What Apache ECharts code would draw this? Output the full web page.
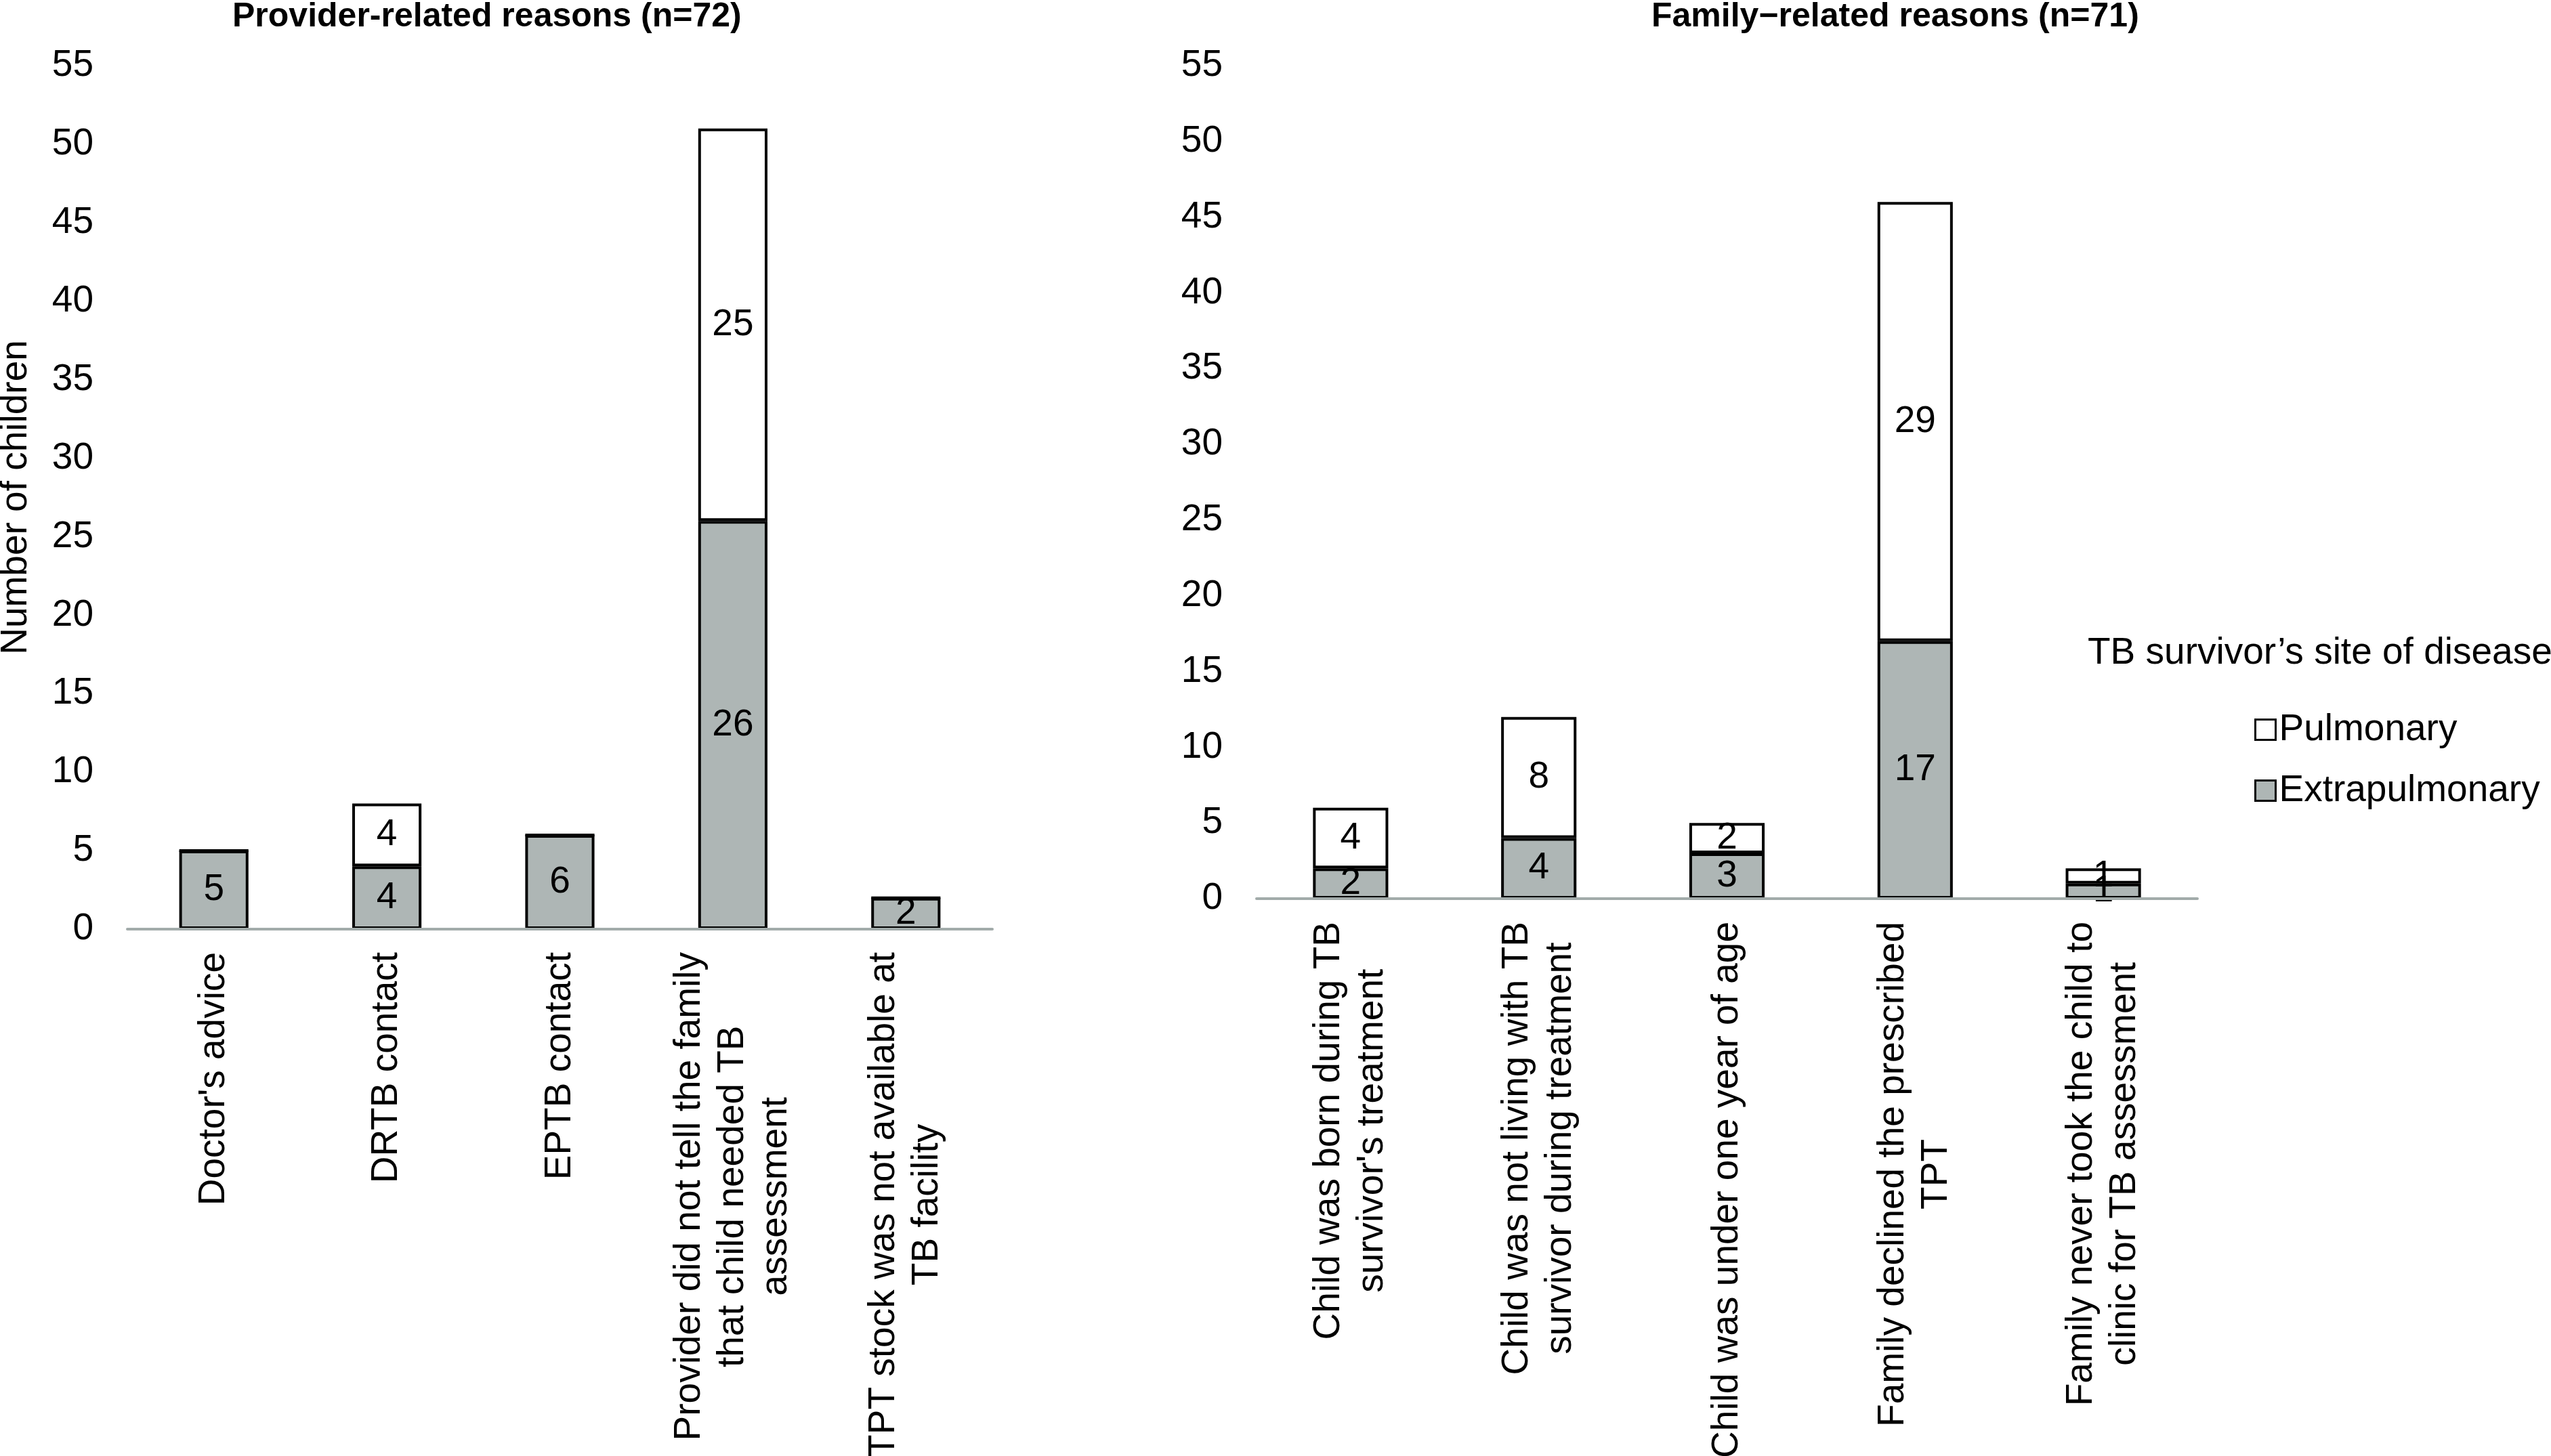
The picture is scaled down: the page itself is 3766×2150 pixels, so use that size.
<!DOCTYPE html>
<html>
<head>
<meta charset="utf-8">
<script src="https://cdn.jsdelivr.net/npm/echarts@6/dist/echarts.min.js"></script>
<style>
html,body{margin:0;padding:0;background:#ffffff;}
#chart{width:3766px;height:2150px;}
</style>
</head>
<body>
<div id="chart"></div>
<script>
// ---- data ----
const providerTitle = 'Provider-related reasons (n=72)';
const familyTitle = 'Family\u2212related reasons (n=71)';
const legendTitle = 'TB survivor\u2019s site of disease';
const seriesNames = ['Pulmonary', 'Extrapulmonary'];
const yAxisName = 'Number of children';

const providerCategories = [
  "Doctor's advice",
  "DRTB contact",
  "EPTB contact",
  "Provider did not tell the family\nthat child needed TB\nassessment",
  "TPT stock was not available at\nTB facility"
];
const providerExtrapulmonary = [5, 4, 6, 26, 2];
const providerPulmonary = [0, 4, 0, 25, 0];

const familyCategories = [
  "Child was born during TB\nsurvivor's treatment",
  "Child was not living with TB\nsurvivor during treatment",
  "Child was under one year of age",
  "Family declined the prescribed\nTPT",
  "Family never took the child to\nclinic for TB assessment"
];
const familyExtrapulmonary = [2, 4, 3, 17, 1];
const familyPulmonary = [4, 8, 2, 29, 1];

const yMin = 0, yMax = 55, yInterval = 5;

// ---- styles ----
const FONT = 'Liberation Sans, Arial, Helvetica, sans-serif';
const GRAY = '#aeb6b5';
const AXIS_GRAY = '#a2abaa';

function catLabel(v) {
  return v.split('\n').map(s => '{c|' + s + '}').join('\n');
}

function xAxisDef(gridIndex, data) {
  return {
    type: 'category', gridIndex: gridIndex, data: data, z: 5,
    axisTick: {show: false},
    axisLine: {show: true, lineStyle: {color: AXIS_GRAY, width: 4}},
    axisLabel: {
      rotate: 90, interval: 0, margin: 34, color: '#000',
      fontFamily: FONT, fontSize: 55,
      formatter: catLabel,
      rich: {c: {align: 'center', fontFamily: FONT, fontSize: 55, lineHeight: 64, color: '#000'}}
    }
  };
}

function yAxisDef(gridIndex, name) {
  return {
    type: 'value', gridIndex: gridIndex, min: yMin, max: yMax, interval: yInterval,
    axisLine: {show: false}, axisTick: {show: false}, splitLine: {show: false},
    axisLabel: {color: '#000', fontFamily: FONT, fontSize: 55, margin: 50},
    name: name || '', nameLocation: 'middle', nameGap: 137,
    nameTextStyle: {color: '#000', fontFamily: FONT, fontSize: 55}
  };
}

const labelStyle = {
  show: true, position: 'inside', color: '#000', fontFamily: FONT, fontSize: 55,
  formatter: p => (p.value ? String(p.value) : '')
};

function barSeries(name, idx, stack, data, color) {
  return {
    name: name, type: 'bar', xAxisIndex: idx, yAxisIndex: idx, stack: stack,
    data: data, barWidth: '40%',
    itemStyle: {color: color, borderColor: '#000', borderWidth: 4},
    label: labelStyle
  };
}

const chart = echarts.init(document.getElementById('chart'), null, {renderer: 'canvas'});
chart.setOption({
  backgroundColor: '#ffffff',
  animation: false,
  title: [
    {text: providerTitle, left: 343, top: 0, padding: 0,
     textStyle: {fontFamily: FONT, fontSize: 50, fontWeight: 'bold', color: '#000'}},
    {text: familyTitle, left: 2438, top: 0, padding: 0,
     textStyle: {fontFamily: FONT, fontSize: 50, fontWeight: 'bold', color: '#000'}},
    {text: legendTitle, left: 3082, top: 937, padding: 0,
     textStyle: {fontFamily: FONT, fontSize: 55, fontWeight: 'normal', color: '#000'}}
  ],
  legend: {
    data: seriesNames, orient: 'vertical', left: 3328, top: 1050, padding: 0,
    icon: 'rect', itemWidth: 30, itemHeight: 30, itemGap: 35,
    itemStyle: {borderWidth: 3, borderColor: '#000'},
    textStyle: {fontFamily: FONT, fontSize: 55, color: '#000'},
    selectedMode: false
  },
  grid: [
    {left: 188, right: 2301, top: 97, bottom: 778, containLabel: false, outerBoundsMode: 'none'},
    {left: 1855, right: 522, top: 97, bottom: 823, containLabel: false, outerBoundsMode: 'none'}
  ],
  xAxis: [xAxisDef(0, providerCategories), xAxisDef(1, familyCategories)],
  yAxis: [yAxisDef(0, yAxisName), yAxisDef(1, '')],
  series: [
    barSeries('Extrapulmonary', 0, 'p', providerExtrapulmonary, GRAY),
    barSeries('Pulmonary', 0, 'p', providerPulmonary, '#ffffff'),
    barSeries('Extrapulmonary', 1, 'f', familyExtrapulmonary, GRAY),
    barSeries('Pulmonary', 1, 'f', familyPulmonary, '#ffffff')
  ]
});
</script>
</body>
</html>
